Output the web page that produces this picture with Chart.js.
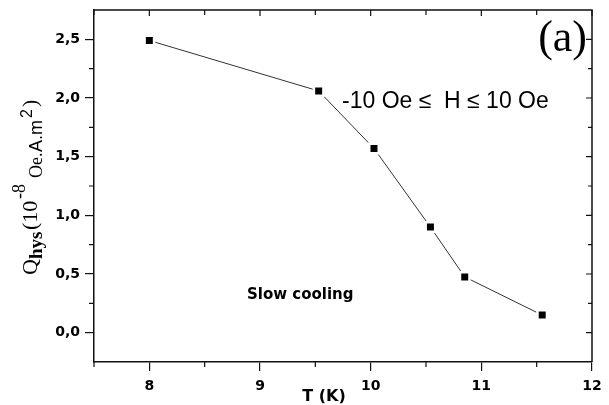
<!DOCTYPE html>
<html>
<head>
<meta charset="utf-8">
<script src="https://cdn.jsdelivr.net/npm/chart.js@4/dist/chart.umd.min.js"></script>
<style>
  body { margin: 0; background: #fff; }
  #wrap { width: 609px; height: 405px; }
</style>
</head>
<body>
<div id="wrap"><canvas id="myChart" width="609" height="405"></canvas></div>
<script>
"use strict";
// data
const temps = [8, 9.53, 10.03, 10.54, 10.85, 11.55];
const qhys = [2.49, 2.06, 1.57, 0.90, 0.475, 0.15];
const xTicks = [8, 9, 10, 11, 12];
const xMinor = [7.5, 8.5, 9.5, 10.5, 11.5];
const yTicks = [0, 0.5, 1.0, 1.5, 2.0, 2.5];
const yMinor = [0.25, 0.75, 1.25, 1.75, 2.25];

let points = [];
for (let i = 0; i < temps.length; i++) {
  points.push({ x: temps[i], y: qhys[i] });
}

const tickFont = { family: "DejaVu Sans", size: 14, weight: "bold" };

// box, minor ticks, inward ticks and texts
const extras = {
  id: "extras",
  afterDraw(chart) {
    const ctx = chart.ctx;
    const a = chart.chartArea;
    const xs = chart.scales.x;
    const ys = chart.scales.y;
    ctx.save();
    ctx.strokeStyle = "#111";
    ctx.lineWidth = 1.5;
    ctx.beginPath();
    ctx.moveTo(a.left, a.top);
    ctx.lineTo(a.right, a.top);
    ctx.lineTo(a.right, a.bottom);
    ctx.stroke();

    ctx.lineWidth = 1.2;
    ctx.beginPath();
    for (let v of xMinor) {
      let px = xs.getPixelForValue(v);
      ctx.moveTo(px, a.bottom);
      ctx.lineTo(px, a.bottom + 5);
      ctx.moveTo(px, a.top);
      ctx.lineTo(px, a.top + 5);
    }
    for (let v of xTicks) {
      let px = xs.getPixelForValue(v);
      ctx.moveTo(px, a.top);
      ctx.lineTo(px, a.top + 6);
    }
    for (let v of yMinor) {
      let py = ys.getPixelForValue(v);
      ctx.moveTo(a.left, py);
      ctx.lineTo(a.left - 5, py);
      ctx.moveTo(a.right, py);
      ctx.lineTo(a.right - 4, py);
    }
    for (let v of yTicks) {
      let py = ys.getPixelForValue(v);
      ctx.moveTo(a.right, py);
      ctx.lineTo(a.right - 6, py);
    }
    ctx.stroke();

    ctx.fillStyle = "#000";
    ctx.textBaseline = "alphabetic";
    ctx.font = "44px 'Liberation Serif'";
    ctx.textAlign = "right";
    ctx.fillText("(a)", 587, 51);

    ctx.textAlign = "left";
    ctx.font = "23px 'Liberation Sans'";
    ctx.fillText("-10 Oe \u2264  H \u2264 10 Oe", 342, 108);

    ctx.font = "bold 15px 'DejaVu Sans'";
    ctx.fillText("Slow cooling", 247, 299);

    ctx.textAlign = "center";
    ctx.font = "bold 16px 'DejaVu Sans'";
    ctx.fillText("T (K)", 324, 401);

    // y title, rotated
    ctx.translate(37, 275);
    ctx.rotate(-Math.PI / 2);
    ctx.textAlign = "left";
    const parts = [
      ["Q", "22px 'Liberation Serif'", 0, 0],
      ["hys", "bold 19px 'Liberation Serif'", 16, 5],
      ["(10", "22px 'Liberation Serif'", 45, 0],
      ["-8", "18px 'Liberation Serif'", 76, -12],
      ["Oe.", "18px 'Liberation Serif'", 97, 5],
      ["A.m", "18px 'Liberation Sans'", 123, 5],
      ["2", "16px 'Liberation Sans'", 157, -5],
      [")", "22px 'Liberation Serif'", 168, 0]
    ];
    for (let p of parts) {
      ctx.font = p[1];
      ctx.fillText(p[0], p[2], p[3]);
    }
    ctx.restore();
  }
};

function noPad(s) {
  s.paddingTop = 0;
  s.paddingBottom = 0;
  s.paddingLeft = 0;
  s.paddingRight = 0;
}

const config = {
  type: "line",
  data: {
    datasets: [
      {
        data: points,
        borderColor: "#333",
        borderWidth: 1,
        pointStyle: "rect",
        pointRadius: 6.7,
        pointBackgroundColor: "#000",
        pointBorderColor: "#fff",
        pointBorderWidth: 2.5,
        tension: 0,
      },
    ],
  },
  options: {
    responsive: false,
    animation: false,
    devicePixelRatio: 1,
    layout: { padding: { left: 0, right: 17, top: 10, bottom: 0 } },
    scales: {
      x: {
        type: "linear",
        min: 7.5,
        max: 12,
        afterFit(s) { s.height = 43; noPad(s); },
        afterBuildTicks(s) { s.ticks = xTicks.map(v => ({ value: v })); },
        grid: { drawOnChartArea: false, tickLength: 9, color: "#111", lineWidth: 1.2 },
        border: { color: "#111", width: 1.5 },
        ticks: { font: tickFont, color: "#000", padding: 7, maxRotation: 0 },
      },
      y: {
        min: -0.25,
        max: 2.75,
        afterFit(s) { s.width = 94; noPad(s); },
        afterBuildTicks(s) { s.ticks = yTicks.map(v => ({ value: v })); },
        grid: { drawOnChartArea: false, tickLength: 9, color: "#111", lineWidth: 1.2 },
        border: { color: "#111", width: 1.5 },
        ticks: {
          font: tickFont,
          color: "#000",
          padding: 5,
          callback: v => v.toFixed(1).replace(".", ","),
        },
      },
    },
    plugins: {
      legend: { display: false },
      tooltip: { enabled: false },
    },
  },
  plugins: [extras],
};

let myChart = new Chart(document.getElementById("myChart"), config);
</script>
</body>
</html>
